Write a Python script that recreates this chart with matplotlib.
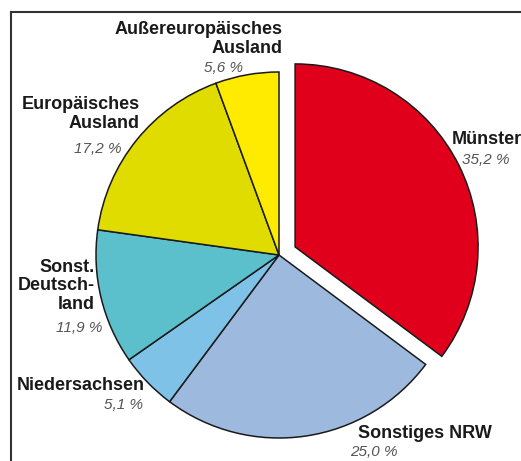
import matplotlib.pyplot as plt
from matplotlib.lines import Line2D

labels = ["Münster", "Sonstiges NRW", "Niedersachsen", "Sonst.\nDeutsch-\nland",
          "Europäisches\nAusland", "Außereuropäisches\nAusland"]
shares = [35.2, 25.0, 5.1, 11.9, 17.2, 5.6]
pct_text = ["35,2 %", "25,0 %", "5,1 %", "11,9 %", "17,2 %", "5,6 %"]
colors = ["#e0001b", "#9db9de", "#7fc2e8", "#5cbfcc", "#e0dc00", "#ffeb00"]

# label placement in pixel coords (x, y of name, x, y of percent, alignment)
label_pos = [
    (452, 140, 462, 160, "left"),
    (358, 434, 350, 452, "left"),
    (145, 385, 143, 405, "right"),
    (95, 286, 102, 328, "right"),
    (140, 114, 122, 149, "right"),
    (283, 39, 243, 68, "right"),
]

W, H = 521, 461
R = 183
fig = plt.figure(figsize=(W / 100, H / 100), dpi=100)
ax = fig.add_axes([0, 0, 1, 1])

ax.pie(shares, colors=colors, explode=[18, 0, 0, 0, 0, 0], startangle=90,
       counterclock=False, center=(279, H - 255), radius=R,
       wedgeprops=dict(edgecolor="#1a1a1a", linewidth=1.1))
ax.set_xlim(0, W)
ax.set_ylim(0, H)
ax.set_aspect("equal")
ax.axis("off")

font = ["Liberation Sans", "DejaVu Sans"]
for lab, pct, (x, y, px, py, ha) in zip(labels, pct_text, label_pos):
    ax.text(x, H - y, lab, ha=ha, va="center", fontsize=13, fontweight="bold",
            family=font, color="#1a1a1a", linespacing=1.15)
    ax.text(px, H - py, pct, ha=ha, va="center", fontsize=11, style="italic",
            family=font, color="#555555")

# frame lines (left and top)
fig.add_artist(Line2D([11 / W, 11 / W], [0, 1 - 12 / H], transform=fig.transFigure,
                      color="#333333", lw=1.5))
fig.add_artist(Line2D([11 / W, 1], [1 - 12 / H, 1 - 12 / H], transform=fig.transFigure,
                      color="#333333", lw=1.5))

fig.savefig("out.png", dpi=100)
